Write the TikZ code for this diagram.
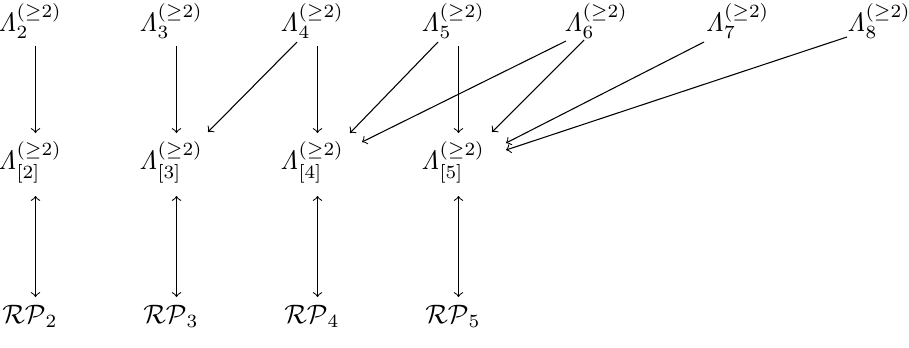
\documentclass[tikz,border=0pt]{standalone}
\begin{document}
\begin{tikzpicture}[x=0.375pt,y=-0.375pt,
  obj/.style={anchor=base,inner sep=0pt,font=\normalsize},
  arr/.style={->,line width=0.4pt},
  darr/.style={<->,line width=0.4pt}]
\useasboundingbox (0,0) rectangle (909,347);
% row 1
\foreach \i/\x in {2/30,3/171,4/312,5/453,6/596,7/737.5,8/879}{
  \node[obj] (a\i) at (\x,31) {$\mathit{\Lambda}_{\i}^{(\geq 2)}$};
}
% rows 2 and 3
\foreach \i/\x in {2/30,3/171,4/312,5/453}{
  \node[obj] (b\i) at (\x,169) {$\mathit{\Lambda}_{[\i]}^{(\geq 2)}$};
  \node[obj] (r\i) at (\x,323) {$\mathcal{RP}_{\i}$};
}
% vertical arrows
\foreach \i in {2,...,5}{
  \draw[arr] ([shift={(5.5,15)}]a\i.base) -- ([shift={(5.5,-36)}]b\i.base);
  \draw[darr] ([shift={(5.5,27)}]b\i.base) -- ([shift={(5.5,-26)}]r\i.base);
}
% diagonal arrows
\draw[arr] ([shift={(-15,11)}]a4.base) -- ([shift={(37,-37)}]b3.base);
\draw[arr] ([shift={(-15,11)}]a5.base) -- ([shift={(38,-36)}]b4.base);
\draw[arr] ([shift={(-30,10)}]a6.base) -- ([shift={(50,-27)}]b4.base);
\draw[arr] ([shift={(-12,9)}]a6.base) -- ([shift={(39,-37)}]b5.base);
\draw[arr] ([shift={(-33.5,11)}]a7.base) -- ([shift={(53,-26)}]b5.base);
\draw[arr] ([shift={(-32,6)}]a8.base) -- ([shift={(53,-19)}]b5.base);
\end{tikzpicture}
\end{document}
